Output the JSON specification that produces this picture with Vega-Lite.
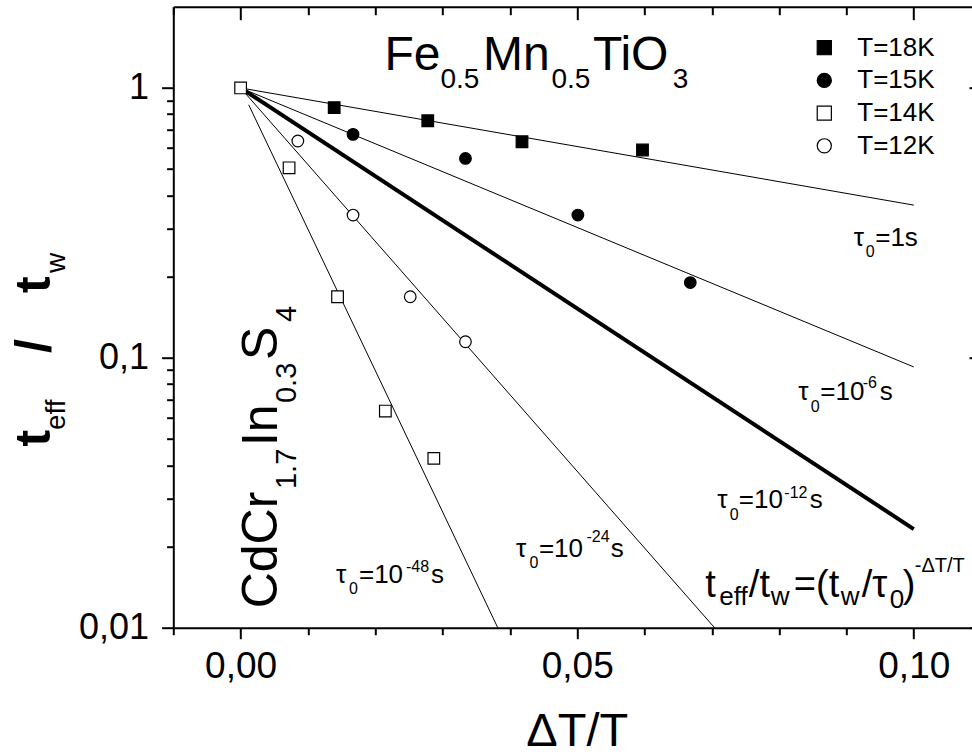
{
  "$schema": "https://vega.github.io/schema/vega-lite/v6.json",
  "autosize": {"type": "none"},
  "padding": {"left": 173.3, "top": 6.7, "right": 0, "bottom": 128.3},
  "width": 798.7,
  "height": 621,
  "background": "white",
  "config": {
    "view": {"stroke": null},
    "font": "Liberation Sans",
    "axis": {"labelFont": "Liberation Sans", "titleFont": "Liberation Sans", "labelColor": "black", "titleColor": "black", "domainColor": "black", "tickColor": "black", "grid": false}
  },
  "datasets": {
    "thin": [
      {"tau": "1s", "x": 0, "y": 1}, {"tau": "1s", "x": 0.1, "y": 0.368},
      {"tau": "1e-6", "x": 0, "y": 1}, {"tau": "1e-6", "x": 0.1, "y": 0.0925},
      {"tau": "1e-24", "x": 0, "y": 1}, {"tau": "1e-24", "x": 0.0704, "y": 0.01},
      {"tau": "1e-48", "x": 0.0012, "y": 0.866}, {"tau": "1e-48", "x": 0.0382, "y": 0.01}
    ],
    "thick": [
      {"tau": "1e-12", "x": 0, "y": 1}, {"tau": "1e-12", "x": 0.1, "y": 0.0232}
    ],
    "pts": [
      {"series": "T=18K", "x": 0.0139, "y": 0.845},
      {"series": "T=18K", "x": 0.0278, "y": 0.756},
      {"series": "T=18K", "x": 0.0418, "y": 0.632},
      {"series": "T=18K", "x": 0.0597, "y": 0.589},
      {"series": "T=15K", "x": 0.0167, "y": 0.673},
      {"series": "T=15K", "x": 0.0334, "y": 0.548},
      {"series": "T=15K", "x": 0.0501, "y": 0.338},
      {"series": "T=15K", "x": 0.0668, "y": 0.190},
      {"series": "T=12K", "x": 0.0085, "y": 0.636},
      {"series": "T=12K", "x": 0.0167, "y": 0.338},
      {"series": "T=12K", "x": 0.0252, "y": 0.1684},
      {"series": "T=12K", "x": 0.0334, "y": 0.1147},
      {"series": "T=14K", "x": 0, "y": 1},
      {"series": "T=14K", "x": 0.0072, "y": 0.506},
      {"series": "T=14K", "x": 0.0144, "y": 0.1684},
      {"series": "T=14K", "x": 0.0215, "y": 0.0635},
      {"series": "T=14K", "x": 0.0287, "y": 0.0424}
    ],
    "title_big": [
      {"x": 0.02137, "y": 1.165, "t": "Fe"},
      {"x": 0.03600, "y": 1.165, "t": "Mn"},
      {"x": 0.05233, "y": 1.165, "t": "TiO"}
    ],
    "title_sub": [
      {"x": 0.02969, "y": 0.9966, "t": "0.5"},
      {"x": 0.04617, "y": 0.9966, "t": "0.5"},
      {"x": 0.06421, "y": 0.9966, "t": "3"}
    ],
    "xtitle": [
      {"x": 0.05001, "y": 0.003660, "t": "ΔT/T"}
    ],
    "cd_big": [
      {"x": 0.005405, "y": 0.01180, "t": "CdCr"},
      {"x": 0.005405, "y": 0.04711, "t": "In"},
      {"x": 0.005405, "y": 0.09813, "t": "S"}
    ],
    "cd_sub": [
      {"x": 0.008227, "y": 0.03265, "t": "1.7"},
      {"x": 0.008227, "y": 0.06801, "t": "0.3"},
      {"x": 0.008227, "y": 0.1357, "t": "4"}
    ],
    "tau_main": [
      {"x": 0.09109, "y": 0.2602, "t": "τ"}, {"x": 0.09427, "y": 0.2602, "t": "=1s"},
      {"x": 0.08285, "y": 0.06977, "t": "τ"}, {"x": 0.08611, "y": 0.06977, "t": "=10"}, {"x": 0.09494, "y": 0.06977, "t": "s"},
      {"x": 0.07082, "y": 0.02770, "t": "τ"}, {"x": 0.07401, "y": 0.02770, "t": "=10"}, {"x": 0.08454, "y": 0.02770, "t": "s"},
      {"x": 0.04090, "y": 0.01823, "t": "τ"}, {"x": 0.04431, "y": 0.01823, "t": "=10"}, {"x": 0.05500, "y": 0.01823, "t": "s"},
      {"x": 0.01417, "y": 0.01460, "t": "τ"}, {"x": 0.01758, "y": 0.01460, "t": "=10"}, {"x": 0.02827, "y": 0.01460, "t": "s"}
    ],
    "tau_small": [
      {"x": 0.09287, "y": 0.2369, "t": "0"},
      {"x": 0.08470, "y": 0.06314, "t": "0"}, {"x": 0.09242, "y": 0.07709, "t": "-6"},
      {"x": 0.07268, "y": 0.02506, "t": "0"}, {"x": 0.08077, "y": 0.03016, "t": "-12"},
      {"x": 0.04290, "y": 0.01660, "t": "0"}, {"x": 0.05137, "y": 0.02083, "t": "-24"},
      {"x": 0.01610, "y": 0.01333, "t": "0"}, {"x": 0.02456, "y": 0.01608, "t": "-48"}
    ],
    "f_main": [
      {"x": 0.06904, "y": 0.01303, "t": "t"},
      {"x": 0.07550, "y": 0.01303, "t": "/t"},
      {"x": 0.08218, "y": 0.01303, "t": "=(t"},
      {"x": 0.09228, "y": 0.01303, "t": "/τ"},
      {"x": 0.09836, "y": 0.01303, "t": ")"}
    ],
    "f_sub": [
      {"x": 0.07112, "y": 0.01214, "t": "eff"},
      {"x": 0.07876, "y": 0.01214, "t": "w"},
      {"x": 0.08915, "y": 0.01214, "t": "w"},
      {"x": 0.09643, "y": 0.01180, "t": "0"}
    ],
    "f_sup": [
      {"x": 0.10015, "y": 0.01612, "t": "-ΔT/T"}
    ],
    "yt_big": [
      {"x": -0.02830, "y": 0.04688, "t": "t"},
      {"x": -0.02830, "y": 0.1042, "t": "/"},
      {"x": -0.02830, "y": 0.1738, "t": "t"}
    ],
    "yt_sub": [
      {"x": -0.02608, "y": 0.05401, "t": "eff"},
      {"x": -0.02608, "y": 0.2062, "t": "w"}
    ]
  },
  "resolve": {"axis": {"x": "independent", "y": "independent"}},
  "layer": [
    {
      "data": {"name": "thin"},
      "mark": {"type": "line", "stroke": "black", "strokeWidth": 1},
      "encoding": {
        "x": {
          "field": "x", "type": "quantitative",
          "scale": {"domain": [-0.01, 0.10865], "nice": false, "zero": false},
          "axis": {
            "orient": "bottom",
            "values": [-0.01, 0, 0.01, 0.02, 0.03, 0.04, 0.05, 0.06, 0.07, 0.08, 0.09, 0.1],
            "labelExpr": "datum.value == 0 ? '0,00' : datum.value == 0.05 ? '0,05' : datum.value == 0.1 ? '0,10' : ''",
            "tickSize": {"condition": {"test": "datum.value == 0 || datum.value == 0.05 || datum.value == 0.1", "value": 11}, "value": 7},
            "tickWidth": 2, "domainWidth": 2,
            "labelFontSize": 37, "labelPadding": 10, "labelFlush": false, "labelOverlap": false,
            "title": null
          }
        },
        "y": {
          "field": "y", "type": "quantitative",
          "scale": {"type": "log", "domain": [0.01, 2], "nice": false},
          "axis": {
            "orient": "left",
            "values": [0.01, 0.02, 0.03, 0.04, 0.05, 0.06, 0.07, 0.08, 0.09, 0.1, 0.2, 0.3, 0.4, 0.5, 0.6, 0.7, 0.8, 0.9, 1],
            "labelExpr": "datum.value == 1 ? '1' : datum.value == 0.1 ? '0,1' : datum.value == 0.01 ? '0,01' : ''",
            "tickSize": {"condition": {"test": "datum.value == 1 || datum.value == 0.1 || datum.value == 0.01", "value": 11.7}, "value": 6.7},
            "tickWidth": 2, "domainWidth": 2,
            "labelFontSize": 36, "labelPadding": 13, "labelFlush": false, "labelOverlap": false,
            "title": null
          }
        },
        "detail": {"field": "tau", "type": "nominal"}
      }
    },
    {
      "data": {"name": "thick"},
      "mark": {"type": "line", "stroke": "black", "strokeWidth": 4},
      "encoding": {
        "x": {"field": "x", "type": "quantitative", "axis": null},
        "y": {"field": "y", "type": "quantitative", "axis": null},
        "detail": {"field": "tau", "type": "nominal"}
      }
    },
    {
      "data": {"name": "pts"},
      "mark": {"type": "point", "filled": true, "strokeWidth": 1.2, "size": 135, "opacity": 1},
      "encoding": {
        "x": {
          "field": "x", "type": "quantitative",
          "axis": {
            "orient": "top",
            "values": [-0.01, 0, 0.01, 0.02, 0.03, 0.04, 0.05, 0.06, 0.07, 0.08, 0.09, 0.1],
            "labels": false, "title": null, "domainWidth": 2, "tickWidth": 2,
            "tickSize": {"condition": {"test": "datum.value == 0 || datum.value == 0.05 || datum.value == 0.1", "value": -13}, "value": -8}
          }
        },
        "y": {
          "field": "y", "type": "quantitative",
          "axis": {
            "orient": "right", "values": [0.01, 0.1, 1], "labels": false, "title": null,
            "domain": false, "tickSize": -3, "tickWidth": 2
          }
        },
        "shape": {
          "field": "series", "type": "nominal",
          "scale": {"domain": ["T=18K", "T=15K", "T=14K", "T=12K"], "range": ["square", "circle", "square", "circle"]},
          "legend": {"title": null, "orient": "none", "legendX": 638, "legendY": 28, "labelFontSize": 26, "labelFont": "Liberation Sans", "labelColor": "black", "symbolSize": 200, "symbolStrokeWidth": 1.2, "labelOffset": 20, "rowPadding": 6.7, "padding": 0, "labelLimit": 0}
        },
        "fill": {
          "field": "series", "type": "nominal",
          "scale": {"domain": ["T=18K", "T=15K", "T=14K", "T=12K"], "range": ["black", "black", "white", "white"]},
          "legend": {"title": null, "orient": "none", "legendX": 638, "legendY": 28, "labelFontSize": 26, "labelFont": "Liberation Sans", "labelColor": "black", "symbolSize": 200, "symbolStrokeWidth": 1.2, "labelOffset": 20, "rowPadding": 6.7, "padding": 0, "labelLimit": 0}
        },
        "stroke": {
          "field": "series", "type": "nominal",
          "scale": {"domain": ["T=18K", "T=15K", "T=14K", "T=12K"], "range": ["black", "black", "black", "black"]},
          "legend": {"title": null, "orient": "none", "legendX": 638, "legendY": 28, "labelFontSize": 26, "labelFont": "Liberation Sans", "labelColor": "black", "symbolSize": 200, "symbolStrokeWidth": 1.2, "labelOffset": 20, "rowPadding": 6.7, "padding": 0, "labelLimit": 0}
        }
      }
    },
    {
      "data": {"name": "title_big"},
      "mark": {"type": "text", "font": "Liberation Sans", "fontSize": 48, "align": "left", "baseline": "alphabetic", "color": "black"},
      "encoding": {
        "x": {"field": "x", "type": "quantitative", "axis": null},
        "y": {"field": "y", "type": "quantitative", "axis": null},
        "text": {"field": "t"}
      }
    },
    {
      "data": {"name": "title_sub"},
      "mark": {"type": "text", "font": "Liberation Sans", "fontSize": 28, "align": "left", "baseline": "alphabetic", "color": "black"},
      "encoding": {
        "x": {"field": "x", "type": "quantitative", "axis": null},
        "y": {"field": "y", "type": "quantitative", "axis": null},
        "text": {"field": "t"}
      }
    },
    {
      "data": {"name": "xtitle"},
      "mark": {"type": "text", "font": "Liberation Sans", "fontSize": 47, "align": "center", "baseline": "alphabetic", "color": "black"},
      "encoding": {
        "x": {"field": "x", "type": "quantitative", "axis": null},
        "y": {"field": "y", "type": "quantitative", "axis": null},
        "text": {"field": "t"}
      }
    },
    {
      "data": {"name": "cd_big"},
      "mark": {"type": "text", "font": "Liberation Sans", "fontSize": 50, "align": "left", "baseline": "alphabetic", "angle": 270, "color": "black"},
      "encoding": {
        "x": {"field": "x", "type": "quantitative", "axis": null},
        "y": {"field": "y", "type": "quantitative", "axis": null},
        "text": {"field": "t"}
      }
    },
    {
      "data": {"name": "cd_sub"},
      "mark": {"type": "text", "font": "Liberation Sans", "fontSize": 29, "align": "left", "baseline": "alphabetic", "angle": 270, "color": "black"},
      "encoding": {
        "x": {"field": "x", "type": "quantitative", "axis": null},
        "y": {"field": "y", "type": "quantitative", "axis": null},
        "text": {"field": "t"}
      }
    },
    {
      "data": {"name": "tau_main"},
      "mark": {"type": "text", "font": "Liberation Sans", "fontSize": 26, "align": "left", "baseline": "alphabetic", "color": "black"},
      "encoding": {
        "x": {"field": "x", "type": "quantitative", "axis": null},
        "y": {"field": "y", "type": "quantitative", "axis": null},
        "text": {"field": "t"}
      }
    },
    {
      "data": {"name": "tau_small"},
      "mark": {"type": "text", "font": "Liberation Sans", "fontSize": 16, "align": "left", "baseline": "alphabetic", "color": "black"},
      "encoding": {
        "x": {"field": "x", "type": "quantitative", "axis": null},
        "y": {"field": "y", "type": "quantitative", "axis": null},
        "text": {"field": "t"}
      }
    },
    {
      "data": {"name": "f_main"},
      "mark": {"type": "text", "font": "Liberation Sans", "fontSize": 38, "align": "left", "baseline": "alphabetic", "color": "black"},
      "encoding": {
        "x": {"field": "x", "type": "quantitative", "axis": null},
        "y": {"field": "y", "type": "quantitative", "axis": null},
        "text": {"field": "t"}
      }
    },
    {
      "data": {"name": "f_sub"},
      "mark": {"type": "text", "font": "Liberation Sans", "fontSize": 26, "align": "left", "baseline": "alphabetic", "color": "black"},
      "encoding": {
        "x": {"field": "x", "type": "quantitative", "axis": null},
        "y": {"field": "y", "type": "quantitative", "axis": null},
        "text": {"field": "t"}
      }
    },
    {
      "data": {"name": "f_sup"},
      "mark": {"type": "text", "font": "Liberation Sans", "fontSize": 20, "align": "left", "baseline": "alphabetic", "color": "black"},
      "encoding": {
        "x": {"field": "x", "type": "quantitative", "axis": null},
        "y": {"field": "y", "type": "quantitative", "axis": null},
        "text": {"field": "t"}
      }
    },
    {
      "data": {"name": "yt_big"},
      "mark": {"type": "text", "font": "Liberation Sans", "fontSize": 50, "fontWeight": "bold", "align": "left", "baseline": "alphabetic", "angle": 270, "color": "black"},
      "encoding": {
        "x": {"field": "x", "type": "quantitative", "axis": null},
        "y": {"field": "y", "type": "quantitative", "axis": null},
        "text": {"field": "t"}
      }
    },
    {
      "data": {"name": "yt_sub"},
      "mark": {"type": "text", "font": "Liberation Sans", "fontSize": 28, "align": "left", "baseline": "alphabetic", "angle": 270, "color": "black"},
      "encoding": {
        "x": {"field": "x", "type": "quantitative", "axis": null},
        "y": {"field": "y", "type": "quantitative", "axis": null},
        "text": {"field": "t"}
      }
    }
  ]
}
